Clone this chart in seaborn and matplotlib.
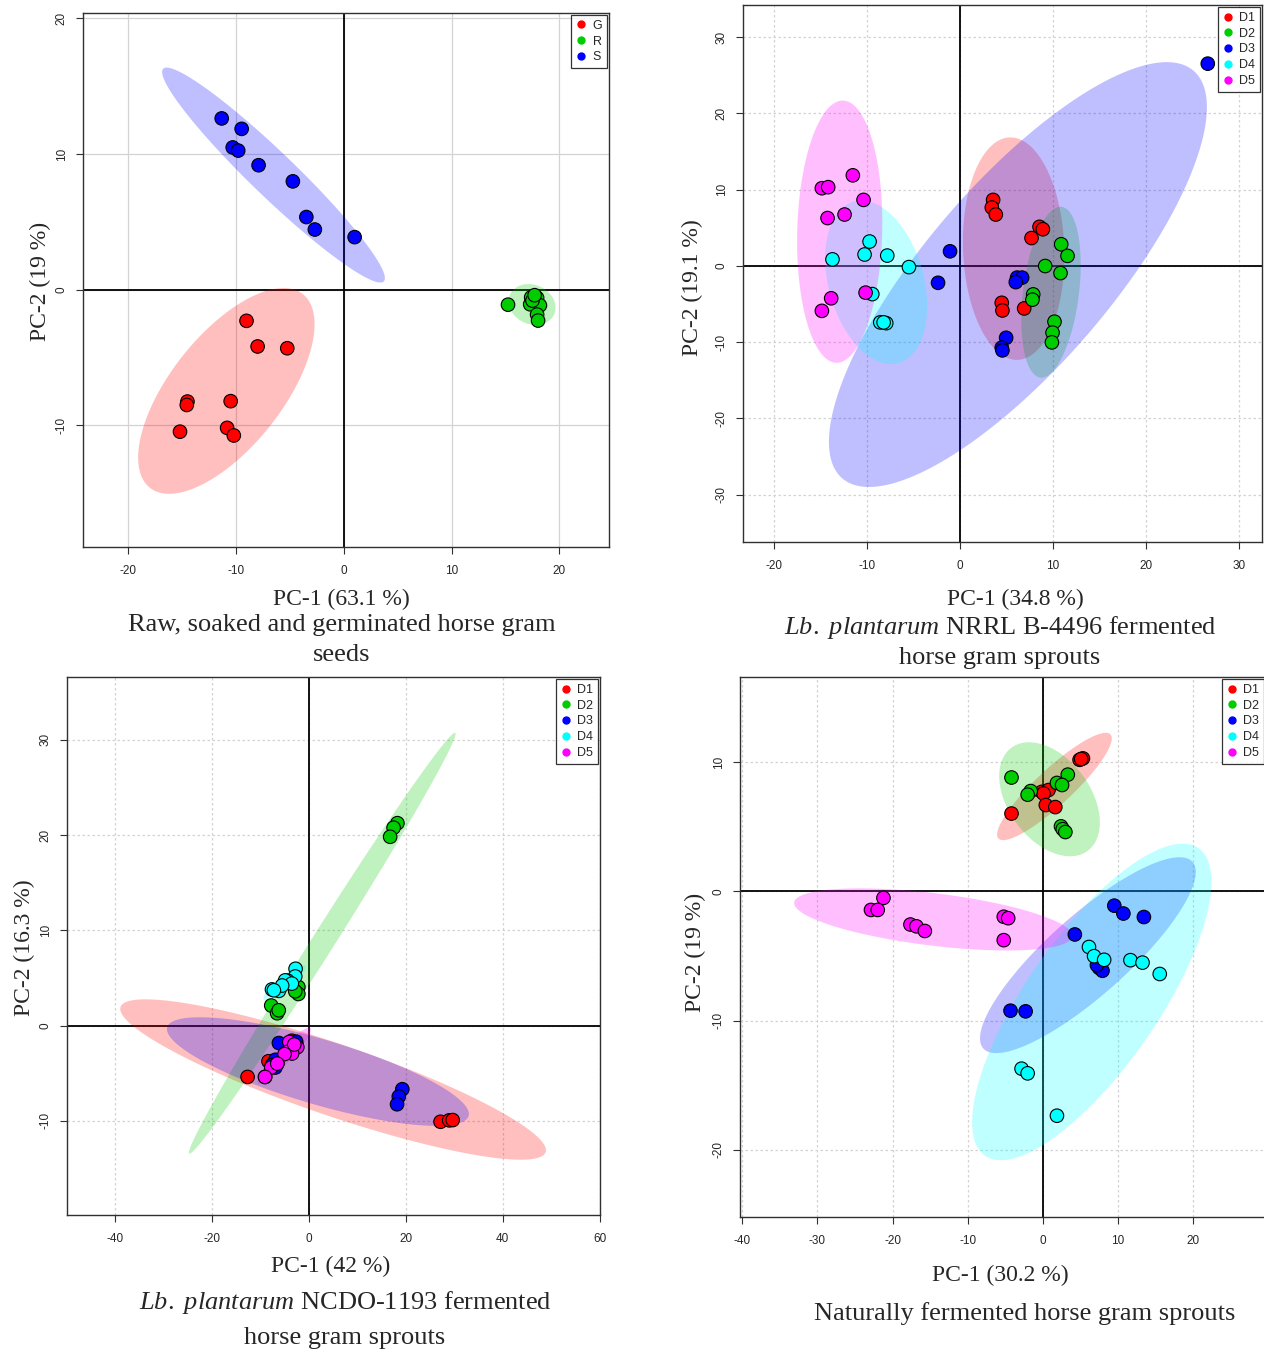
import numpy as np
import pandas as pd
import seaborn as sns
import matplotlib.pyplot as plt

# ---- panel A: raw (R), soaked (S) and germinated (G) seeds ----
seed_order = ['G', 'R', 'S']
seed_pc1 = [-9.03, -8.00, -5.25, -14.51, -14.57, -10.50, -15.20, -10.83, -10.21,
            15.23, 17.38, 17.93, 17.29, 18.19, 17.93, 18.02, 17.50, 17.70,
            -11.33, -9.48, -10.31, -9.80, -7.91, -4.73, -3.48, -2.69, 1.00]
seed_pc2 = [-2.29, -4.18, -4.31, -8.24, -8.49, -8.21, -10.46, -10.18, -10.74,
            -1.10, -0.56, -0.60, -1.07, -1.15, -1.83, -2.27, -0.80, -0.40,
            12.63, 11.86, 10.49, 10.26, 9.18, 7.99, 5.36, 4.44, 3.88]

# ---- panel B: Lb. plantarum NRRL B-4496 ----
day_order = ['D1', 'D2', 'D3', 'D4', 'D5']
nrrl_pc1 = [3.59, 3.45, 3.88, 8.58, 8.94, 7.72, 4.52, 4.59, 6.93,
            10.91, 11.59, 9.19, 10.84, 7.90, 7.82, 10.19, 9.98, 9.91,
            26.67, -1.04, -2.33, 6.17, 6.71, 6.03, 4.99, 4.52, 4.59,
            -9.69, -13.68, -10.23, -7.79, -5.46, -9.40, -8.54, -7.90, -8.18,
            -11.49, -14.82, -14.14, -10.34, -12.38, -14.21, -10.12, -13.82, -14.82]
nrrl_pc2 = [8.65, 7.65, 6.73, 5.12, 4.80, 3.65, -4.84, -5.85, -5.58,
            2.83, 1.31, -0.02, -0.94, -3.74, -4.43, -7.32, -8.75, -10.03,
            26.51, 1.91, -2.22, -1.54, -1.54, -2.13, -9.43, -10.72, -11.08,
            3.19, 0.85, 1.49, 1.35, -0.16, -3.70, -7.41, -7.51, -7.41,
            11.87, 10.18, 10.32, 8.65, 6.73, 6.27, -3.51, -4.25, -5.90]

# ---- panel C: Lb. plantarum NCDO-1193 ----
ncdo_pc1 = [-12.63, -8.32, -3.5, -2.6, -7.2, -6.5, 27.19, 28.98, 29.70,
            18.29, 17.50, 16.79, -2.15, -2.15, -7.75, -6.53, -6.2, -2.8,
            -6.17, -6.89, -7.60, -6.89, -2.6, -9.0, 19.30, 18.58, 18.22,
            -2.73, -2.80, -4.38, -4.88, -7.60, -6.17, -3.5, -5.5, -7.2,
            -4.02, -2.37, -4.38, -3.44, -7.75, -9.04, -3.0, -5.0, -6.5]
ncdo_pc2 = [-5.40, -3.75, -1.6, -2.0, -4.3, -4.0, -10.11, -9.96, -9.93,
            21.25, 20.77, 19.82, 4.04, 3.31, 2.10, 1.29, 1.6, 3.6,
            -1.84, -3.60, -4.15, -4.41, -1.7, -5.4, -6.69, -7.46, -8.27,
            5.96, 5.15, 4.71, 4.74, 3.79, 3.64, 4.4, 4.2, 3.7,
            -1.73, -2.28, -2.76, -2.94, -4.41, -5.40, -2.0, -3.0, -4.0]

# ---- panel D: naturally fermented ----
nat_pc1 = [4.89, 5.34, 5.10, -0.13, 0.76, 0.09, 0.40, 1.66, -4.17,
           -4.17, -1.61, -2.02, 1.88, 3.32, 2.56, 2.42, 2.65, 3.00,
           9.51, 10.72, 13.45, 4.26, 7.49, 7.94, 7.2, -4.30, -2.29,
           6.14, 6.82, 8.16, 11.66, 13.27, 15.56, -2.83, -2.02, 1.88,
           -21.21, -22.87, -21.97, -17.62, -16.82, -15.70, -5.20, -4.61, -5.20]
nat_pc2 = [10.19, 10.30, 10.25, 7.71, 7.85, 7.58, 6.69, 6.53, 6.03,
           8.82, 7.77, 7.49, 8.40, 9.04, 8.24, 5.04, 4.82, 4.60,
           -1.10, -1.71, -1.98, -3.33, -5.92, -6.14, -5.7, -9.23, -9.28,
           -4.30, -5.01, -5.29, -5.32, -5.51, -6.39, -13.72, -14.08, -17.36,
           -0.50, -1.43, -1.43, -2.56, -2.70, -3.06, -1.96, -2.07, -3.77]

seed_colors = ['#FF0000', '#00CD00', '#0000FF']
day_colors = ['#FF0000', '#00CD00', '#0000FF', '#00FFFF', '#FF00FF']

W, H = 1264, 1354

sns.set_style('white')
plt.rcParams['font.family'] = ['Liberation Sans', 'DejaVu Sans']
plt.rcParams['axes.unicode_minus'] = False
plt.rcParams['mathtext.fontset'] = 'custom'
plt.rcParams['mathtext.rm'] = 'Liberation Serif'
plt.rcParams['mathtext.it'] = 'Liberation Serif:italic'


def conf_ellipse(x, y, level=0.95, n=200):
    # normal-theory confidence ellipse, same as ellipse::ellipse in R
    t = np.sqrt(-2 * np.log(1 - level))
    xy = np.column_stack([x, y])
    centre = xy.mean(axis=0)
    L = np.linalg.cholesky(np.cov(xy, rowvar=False))
    a = np.linspace(0, 2 * np.pi, n)
    pts = centre + t * (L @ np.vstack([np.cos(a), np.sin(a)])).T
    return pts[:, 0], pts[:, 1]


def panel(box, pc1, pc2, order, colors, xlim, ylim, xticks, yticks, grid_ls):
    l, r, t, b = box
    ax = fig.add_axes([l / W, 1 - b / H, (r - l) / W, (b - t) / H])
    groups = np.repeat(order, 9)
    df = pd.DataFrame({'PC1': pc1, 'PC2': pc2, 'group': groups})

    ax.set_axisbelow(True)
    ax.grid(True, color='#d3d3d3', lw=0.9, ls=grid_ls)
    ax.axhline(0, color='black', lw=1.3, zorder=1)
    ax.axvline(0, color='black', lw=1.3, zorder=1)

    for g, c in zip(order, colors):
        sub = df[df['group'] == g]
        ex, ey = conf_ellipse(sub['PC1'], sub['PC2'])
        ax.fill(ex, ey, color=c, alpha=0.25, lw=0, zorder=2)

    sns.scatterplot(data=df, x='PC1', y='PC2', hue='group', hue_order=order,
                    palette=colors, s=95, edgecolor='black', linewidth=0.8,
                    legend=False, ax=ax, zorder=3)

    ax.set_xlim(xlim)
    ax.set_ylim(ylim)
    ax.set_xticks(xticks)
    ax.set_yticks(yticks)
    ax.set_xlabel('')
    ax.set_ylabel('')
    for sp in ax.spines.values():
        sp.set_color('#303030')
        sp.set_linewidth(1.0)
    ax.tick_params(axis='both', direction='out', length=5, width=0.8,
                   color='#303030', labelsize=8.5, left=True, bottom=True)
    ax.tick_params(axis='x', pad=8)
    ax.tick_params(axis='y', pad=6)
    for lab in ax.get_yticklabels():
        lab.set_rotation(90)
        lab.set_va('center')

    handles = [plt.Line2D([], [], marker='o', ls='', color=c, markersize=5)
               for c in colors]
    leg = ax.legend(handles, order, loc='upper right', fontsize=9,
                    frameon=True, fancybox=False, borderaxespad=0.15,
                    handlelength=0.8, handletextpad=0.5, labelspacing=0.3,
                    borderpad=0.4)
    leg.get_frame().set_edgecolor('black')
    leg.get_frame().set_linewidth(0.9)
    return ax


def ftext(x, y, s, size):
    fig.text(x / W, 1 - y / H, s, ha='center', va='center', fontsize=size,
             family='Liberation Serif')


def ylab(x, y, s):
    fig.text(x / W, 1 - y / H, s, ha='center', va='center', fontsize=17,
             family='Liberation Serif', rotation=90)


fig = plt.figure(figsize=(W / 100, H / 100), dpi=100)

panel((83, 609, 13, 547), seed_pc1, seed_pc2, seed_order, seed_colors,
      (-24.2, 24.6), (-18.96, 20.4), [-20, -10, 0, 10, 20], [-10, 0, 10, 20], '-')
panel((743, 1262, 5, 542), nrrl_pc1, nrrl_pc2, day_order, day_colors,
      (-23.3, 32.5), (-36.2, 34.2), [-20, -10, 0, 10, 20, 30],
      [-30, -20, -10, 0, 10, 20, 30], (0, (2, 2)))
panel((67, 600, 677, 1215), ncdo_pc1, ncdo_pc2, day_order, day_colors,
      (-49.9, 60.1), (-19.9, 36.6), [-40, -20, 0, 20, 40, 60],
      [-10, 0, 10, 20, 30], (0, (2, 2)))
panel((740, 1266, 677, 1217), nat_pc1, nat_pc2, day_order, day_colors,
      (-40.3, 29.7), (-25.2, 16.6), [-40, -30, -20, -10, 0, 10, 20],
      [-20, -10, 0, 10], (0, (2, 2)))

# axis titles
ftext(341, 599, 'PC-1 (63.1 %)', 17)
ylab(40, 281, 'PC-2 (19 %)')
ftext(1015, 599, 'PC-1 (34.8 %)', 17)
ylab(692, 288, 'PC-2 (19.1 %)')
ftext(331, 1266, 'PC-1 (42 %)', 17)
ylab(24, 948, 'PC-2 (16.3 %)')
ftext(1000, 1275, 'PC-1 (30.2 %)', 17)
ylab(695, 952, 'PC-2 (19 %)')

# captions
ftext(342, 625, 'Raw, soaked and germinated horse gram', 19)
ftext(342, 655, 'seeds', 19)
ftext(1000, 627, r'$\mathit{Lb.\ plantarum}$ NRRL B-4496 fermented', 19)
ftext(1000, 658, 'horse gram sprouts', 19)
ftext(345, 1302, r'$\mathit{Lb.\ plantarum}$ NCDO-1193 fermented', 19)
ftext(345, 1338, 'horse gram sprouts', 19)
ftext(1025, 1314, 'Naturally fermented horse gram sprouts', 19)

fig.savefig('out.png', dpi=100)
